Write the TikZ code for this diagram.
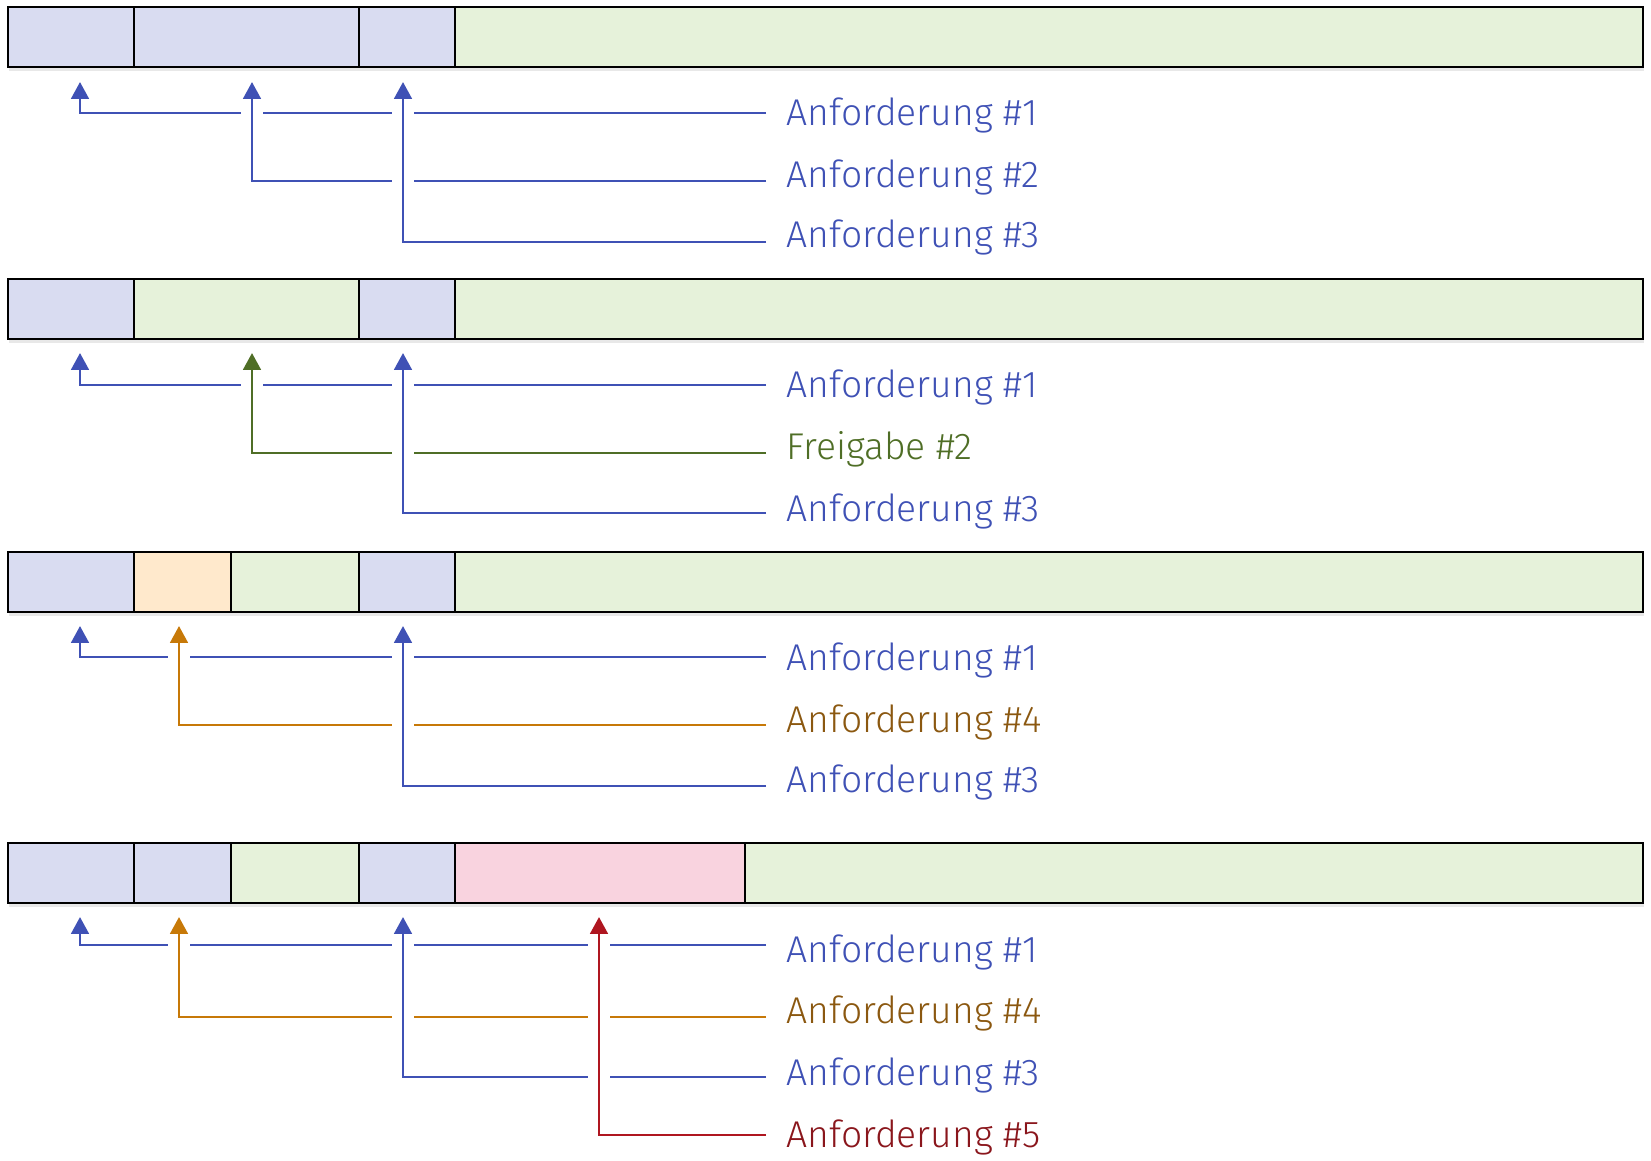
\documentclass[tikz,border=0pt]{standalone}
\usepackage{fontspec}
\IfFontExistsTF{Fira Sans Light}{\setmainfont{Fira Sans Light}}{\setmainfont{Fira Sans}}
\usetikzlibrary{arrows.meta,shadows}
\definecolor{slotblue}{RGB}{217,220,241}
\definecolor{slotgreen}{RGB}{230,242,218}
\definecolor{slotorange}{RGB}{255,233,204}
\definecolor{slotpink}{RGB}{249,211,223}
\definecolor{reqblue}{RGB}{63,81,181}
\definecolor{relgreen}{RGB}{79,110,38}
\definecolor{reqorange}{RGB}{199,121,8}
\definecolor{reqred}{RGB}{175,22,32}
\definecolor{txtorange}{RGB}{139,88,16}
\definecolor{txtred}{RGB}{138,22,28}

\tikzset{
  slot/.style={draw=black, line width=0.75pt, inner sep=0pt, outer sep=0pt,
               anchor=north west, minimum height=0.6cm},
  barshadow/.style={drop shadow={opacity=0.18, shadow xshift=0.4pt, shadow yshift=-1.2pt}},
  link/.style={draw=#1, line width=0.8pt, -{Triangle[width=5pt,length=4.8pt]},
               preaction={draw=white, line width=6pt, arrows=-}},
  lbl/.style={inner sep=0pt, anchor=base west, font=\fontsize{10.6}{12}\selectfont}
}

\begin{document}
\begin{tikzpicture}
\useasboundingbox (0,0) rectangle (16.51,-11.60);

% --- step 1: three requests ---
\node[slot, barshadow, minimum width=16.35cm] (bar1) at (0.08,-0.07) {};
\foreach \a/\b/\c [count=\i] in {0.08/1.34/slotblue, 1.34/3.59/slotblue,
    3.59/4.55/slotblue, 4.55/16.43/slotgreen}
  \node[slot, fill=\c, minimum width={(\b-\a)*1cm}] (m1-\i) at (\a,-0.07) {};
\foreach \tx/\ly/\ty/\c/\tc/\txt [count=\k] in {
    0.80/1.13/1.25/reqblue/reqblue/Anforderung \#1,
    2.52/1.81/1.87/reqblue/reqblue/Anforderung \#2,
    4.03/2.42/2.47/reqblue/reqblue/Anforderung \#3}
{
  \coordinate (t1-\k) at (\tx,-0.82);
  \coordinate (e1-\k) at (7.66,-\ly);
  \draw[link=\c] (e1-\k) -| (t1-\k);
  \node[lbl, text=\tc] (l1-\k) at (7.86,-\ty) {\txt};
}

% --- step 2: #2 is freed ---
\node[slot, barshadow, minimum width=16.35cm] (bar2) at (0.08,-2.79) {};
\foreach \a/\b/\c [count=\i] in {0.08/1.34/slotblue, 1.34/3.59/slotgreen,
    3.59/4.55/slotblue, 4.55/16.43/slotgreen}
  \node[slot, fill=\c, minimum width={(\b-\a)*1cm}] (m2-\i) at (\a,-2.79) {};
\foreach \tx/\ly/\ty/\c/\tc/\txt [count=\k] in {
    0.80/3.85/3.97/reqblue/reqblue/Anforderung \#1,
    2.52/4.53/4.59/relgreen/relgreen/Freigabe \#2,
    4.03/5.13/5.21/reqblue/reqblue/Anforderung \#3}
{
  \coordinate (t2-\k) at (\tx,-3.53);
  \coordinate (e2-\k) at (7.66,-\ly);
  \draw[link=\c] (e2-\k) -| (t2-\k);
  \node[lbl, text=\tc] (l2-\k) at (7.86,-\ty) {\txt};
}

% --- step 3: #4 goes into the gap ---
\node[slot, barshadow, minimum width=16.35cm] (bar3) at (0.08,-5.52) {};
\foreach \a/\b/\c [count=\i] in {0.08/1.34/slotblue, 1.34/2.31/slotorange,
    2.31/3.59/slotgreen, 3.59/4.55/slotblue, 4.55/16.43/slotgreen}
  \node[slot, fill=\c, minimum width={(\b-\a)*1cm}] (m3-\i) at (\a,-5.52) {};
\foreach \tx/\ly/\ty/\c/\tc/\txt [count=\k] in {
    0.80/6.57/6.70/reqblue/reqblue/Anforderung \#1,
    1.79/7.25/7.32/reqorange/txtorange/Anforderung \#4,
    4.03/7.86/7.92/reqblue/reqblue/Anforderung \#3}
{
  \coordinate (t3-\k) at (\tx,-6.26);
  \coordinate (e3-\k) at (7.66,-\ly);
  \draw[link=\c] (e3-\k) -| (t3-\k);
  \node[lbl, text=\tc] (l3-\k) at (7.86,-\ty) {\txt};
}

% --- step 4: #5 at the end ---
\node[slot, barshadow, minimum width=16.35cm] (bar4) at (0.08,-8.43) {};
\foreach \a/\b/\c [count=\i] in {0.08/1.34/slotblue, 1.34/2.31/slotblue,
    2.31/3.59/slotgreen, 3.59/4.55/slotblue, 4.55/7.45/slotpink,
    7.45/16.43/slotgreen}
  \node[slot, fill=\c, minimum width={(\b-\a)*1cm}] (m4-\i) at (\a,-8.43) {};
\foreach \tx/\ly/\ty/\c/\tc/\txt [count=\k] in {
    0.80/9.45/9.62/reqblue/reqblue/Anforderung \#1,
    1.79/10.17/10.23/reqorange/txtorange/Anforderung \#4,
    4.03/10.77/10.85/reqblue/reqblue/Anforderung \#3,
    5.99/11.35/11.47/reqred/txtred/Anforderung \#5}
{
  \coordinate (t4-\k) at (\tx,-9.17);
  \coordinate (e4-\k) at (7.66,-\ly);
  \draw[link=\c] (e4-\k) -| (t4-\k);
  \node[lbl, text=\tc] (l4-\k) at (7.86,-\ty) {\txt};
}
\end{tikzpicture}
\end{document}
